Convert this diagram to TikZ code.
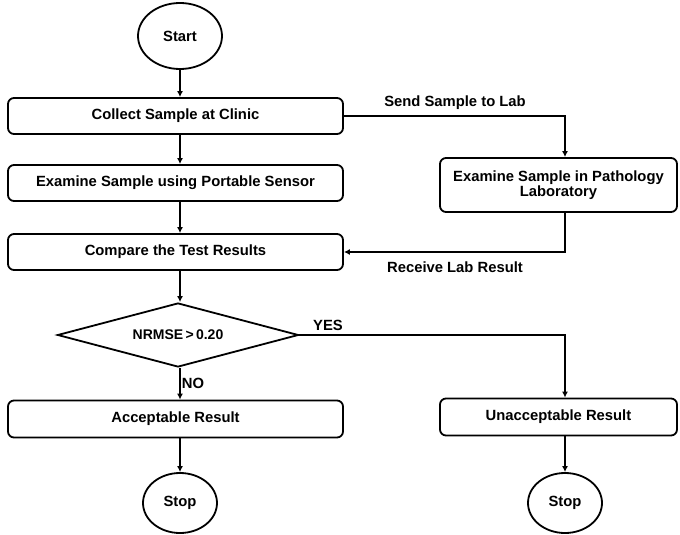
\documentclass[tikz,border=0pt]{standalone}
\usepackage{fontspec}
\setmainfont{Liberation Sans}
\usetikzlibrary{shapes.geometric,arrows.meta}
\begin{document}
\begin{tikzpicture}[x=1pt,y=-1pt,
  font=\fontsize{14.8}{17}\selectfont\bfseries,
  procbox/.style={draw,line width=1.8pt,rounded corners=6pt,minimum height=36pt,inner sep=0pt,align=center},
  term/.style={draw,ellipse,line width=1.8pt,inner sep=0pt},
  dec/.style={draw,diamond,line width=1.8pt,inner sep=0pt,minimum width=241pt,minimum height=64pt,aspect=3.7},
  arr/.style={line width=1.8pt,-{Latex[length=6pt,width=6pt]}},
  lbl/.style={inner sep=1pt}]
\useasboundingbox (0,0) rectangle (680,535);
\node[term,minimum width=84pt,minimum height=66pt] (start) at (180,36) {Start};
\node[procbox,minimum width=335pt] (collect) at (175.5,116) {Collect Sample at Clinic};
\node[procbox,minimum width=335pt] (portable) at (175.5,183) {Examine Sample using Portable Sensor};
\node[procbox,minimum width=335pt] (compare) at (175.5,252) {Compare the Test Results};
\node[procbox,minimum width=237pt,minimum height=54pt] (lab) at (558.5,185) {Examine Sample in Pathology\\[-2pt]Laboratory};
\node[dec] (nrmse) at (178,335) {\fontsize{14}{16}\selectfont NRMSE\,>\,0.20};
\node[procbox,minimum width=335pt,minimum height=37pt] (accept) at (175.5,419) {Acceptable Result};
\node[procbox,minimum width=237pt,minimum height=37pt] (unaccept) at (558.5,417) {Unacceptable Result};
\node[term,minimum width=74pt,minimum height=60pt] (stop1) at (180,503) {Stop};
\node[term,minimum width=74pt,minimum height=60pt] (stop2) at (565,503) {Stop};
\coordinate (c1) at (565,116);
\coordinate (c2) at (565,252);
\coordinate (c3) at (565,335);
\draw[arr] (start.south) -- (start.south |- collect.north);
\draw[arr] (180,134) coordinate (a1) -- (a1 |- portable.north);
\draw[arr] (180,201) coordinate (a2) -- (a2 |- compare.north);
\draw[arr] (180,270) coordinate (a3) -- (nrmse.north -| a3);
\draw[arr] (collect.east) -- (c1) -- (c1 |- lab.north);
\draw[arr] (c1 |- lab.south) -- (c2) -- (compare.east);
\draw[arr] (nrmse.east) -- (c3) -- (c3 |- unaccept.north);
\draw[arr] (nrmse.south -| a3) -- (a3 |- accept.north);
\draw[arr] (180,437.5) coordinate (a4) -- (stop1.north);
\draw[arr] (565,435.5) coordinate (a5) -- (stop2.north);
\node[lbl] (l1) at (455,103) {Send Sample to Lab};
\node[lbl] (l2) at (455,267) {Receive Lab Result};
\node[lbl] (l3) at (328,325) {YES};
\node[lbl] (l4) at (193,383) {NO};
\end{tikzpicture}
\end{document}
